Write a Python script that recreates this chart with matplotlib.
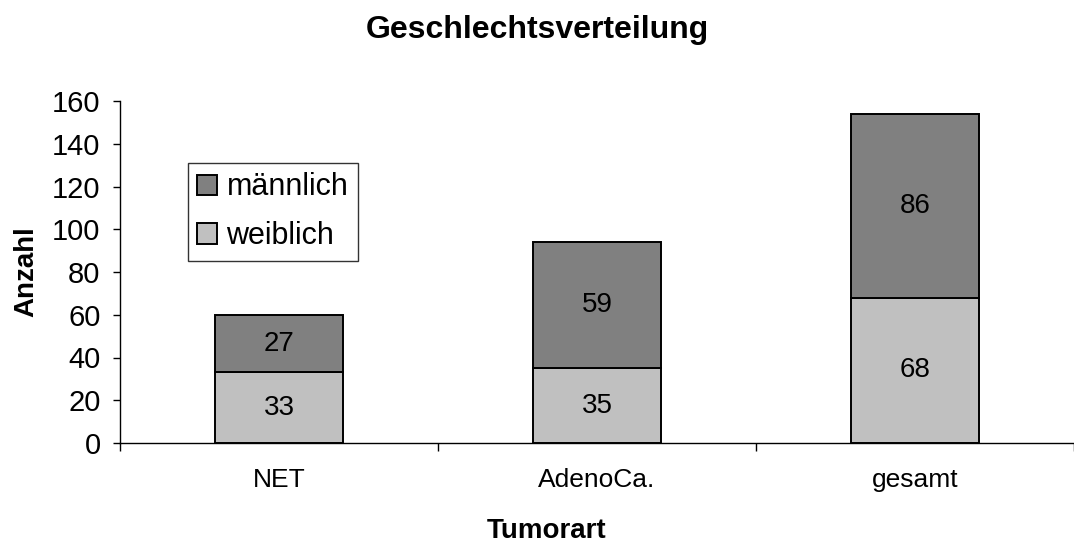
import matplotlib
matplotlib.use("Agg")
import matplotlib.pyplot as plt
import numpy as np

plt.rcParams['font.family'] = ['Liberation Sans', 'DejaVu Sans']

# Anzahl nach Tumorart und Geschlecht
tumorart = ["NET", "AdenoCa.", "gesamt"]
weiblich = [33, 35, 68]
maennlich = [27, 59, 86]
y_ticks = [0, 20, 40, 60, 80, 100, 120, 140, 160]

W, H = 1074, 544
fig = plt.figure(figsize=(W / 100, H / 100), dpi=100)
ax = fig.add_axes([120 / W, (H - 443) / H, (W - 120) / W, 342 / H])

x = np.arange(len(tumorart))
b1 = ax.bar(x, weiblich, width=0.4, color="#c0c0c0", edgecolor="black",
            linewidth=1.4, label="weiblich")
b2 = ax.bar(x, maennlich, width=0.4, bottom=weiblich, color="#808080",
            edgecolor="black", linewidth=1.4, label="männlich")

# Werte mittig in die Segmente schreiben
for i in range(len(tumorart)):
    ax.text(x[i], weiblich[i] / 2, str(weiblich[i]), ha="center", va="center",
            fontsize=20)
    ax.text(x[i], weiblich[i] + maennlich[i] / 2, str(maennlich[i]),
            ha="center", va="center", fontsize=20)

ax.set_xlim(-0.5, (W - 120) / 320 - 0.5)
ax.set_ylim(0, 160)
ax.set_yticks(y_ticks)
ax.tick_params(axis="y", labelsize=21, length=5, width=1, direction="out", pad=9)

# Kategorien-Beschriftung ohne Ticks, Trennstriche zwischen den Gruppen
ax.set_xticks(x)
ax.set_xticklabels(tumorart, fontsize=19)
ax.tick_params(axis="x", length=0, pad=18)
ax.set_xticks(np.arange(len(tumorart) + 1) - 0.5, minor=True)
ax.tick_params(axis="x", which="minor", length=6, width=1, direction="out")

for s in ["top", "right"]:
    ax.spines[s].set_visible(False)
ax.spines["left"].set_linewidth(1)
ax.spines["bottom"].set_linewidth(1)

ax.set_ylabel("Anzahl", fontsize=20, fontweight="bold", labelpad=9)
ax.set_xlabel("Tumorart", fontsize=20, fontweight="bold")
ax.xaxis.label.set_va("baseline")
ax.xaxis.set_label_coords((W / 2 + 10) / W, 6 / H, transform=fig.transFigure)

fig.text(0.5, 1 - 38 / H, "Geschlechtsverteilung",
         ha="center", va="baseline", fontsize=23, fontweight="bold")

handles = [b2, b1]
leg = ax.legend(handles, ["männlich", "weiblich"], loc="upper left",
                bbox_to_anchor=((188 - 120) / (W - 120), 1 - (163 - 101) / 342),
                fontsize=22, frameon=True, fancybox=False, edgecolor="black",
                handlelength=0.65, handleheight=0.65, handletextpad=0.3,
                borderpad=0.31, labelspacing=0.62, borderaxespad=0)
leg.get_frame().set_linewidth(1)

fig.savefig("out.png", dpi=100)
